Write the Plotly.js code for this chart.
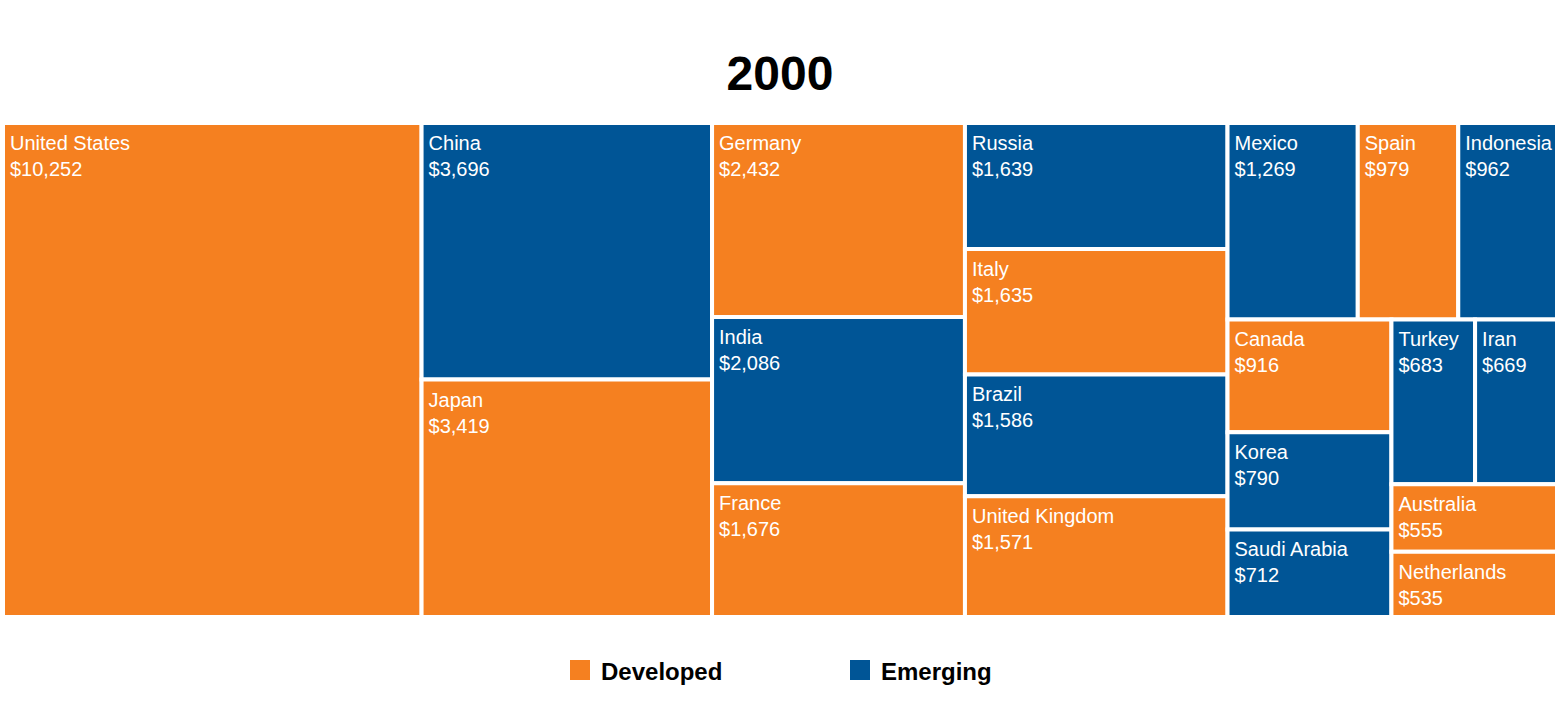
<!DOCTYPE html>
<html>
<head>
<meta charset="utf-8">
<script src="https://cdn.plot.ly/plotly-3.0.1.min.js"></script>
<style>html,body{margin:0;padding:0;background:#fff}#chart{width:1560px;height:720px}</style>
</head>
<body>
<div id="chart"></div>
<script>
const countries = ["United States","China","Japan","Germany","India","France","Russia","Italy","Brazil","United Kingdom","Mexico","Spain","Indonesia","Canada","Korea","Saudi Arabia","Turkey","Iran","Australia","Netherlands"];
const gdp = [10252,3696,3419,2432,2086,1676,1639,1635,1586,1571,1269,979,962,916,790,712,683,669,555,535];
const groups = ["Developed","Emerging","Developed","Developed","Emerging","Developed","Emerging","Developed","Emerging","Developed","Emerging","Developed","Emerging","Developed","Emerging","Emerging","Emerging","Emerging","Developed","Developed"];
const groupNames = ["Developed","Emerging"];
const groupColors = {"Developed":"#F58020","Emerging":"#005596"};
const titleText = "2000";

const trace = {
  type: "treemap",
  labels: countries,
  parents: countries.map(() => ""),
  values: gdp,
  branchvalues: "total",
  sort: true,
  tiling: {packing: "squarify", squarifyratio: 1.618034, pad: 0},
  pathbar: {visible: false},
  marker: {colors: groups.map(g => groupColors[g]), line: {color: "#ffffff", width: 4},
    pad: {t: 0, l: 0, r: 0, b: 0}},
  textposition: "top left",
  texttemplate: "%{label}<br>$%{value:,}",
  textfont: {family: "Liberation Sans, Arial, sans-serif", size: 20, color: "#ffffff"},
  hovertemplate: "%{label}<br>$%{value:,}<extra></extra>"
};

const mt = 123, mb = 103, H = 720;
const plotH = H - mt - mb;
function py(pix) { return (H - mb - pix) / plotH; }

const shapes = [];
const annotations = [];
const legendX0 = 570, legendStep = 280;
groupNames.forEach((g, i) => {
  const x0 = (legendX0 + i * legendStep - 3) / 1554;
  shapes.push({type: "rect", xref: "paper", yref: "paper",
    x0: x0, x1: x0 + 20/1554,
    y0: py(680), y1: py(660),
    fillcolor: groupColors[g], line: {width: 0}});
  annotations.push({xref: "paper", yref: "paper", x: x0 + 29/1554, y: py(671),
    xanchor: "left", yanchor: "middle", showarrow: false, text: "<b>" + g + "</b>",
    font: {family: "Liberation Sans, Arial, sans-serif", size: 24, color: "#000000"}});
});

const layout = {
  width: 1560, height: 720,
  margin: {l: 3, r: 3, t: mt, b: mb},
  paper_bgcolor: "#ffffff",
  title: {text: "<b>" + titleText + "</b>", x: 0.5, xanchor: "center", xref: "paper", y: 1 - 73/720, yanchor: "middle",
    font: {family: "Liberation Sans, Arial, sans-serif", size: 48, color: "#000000"}},
  shapes: shapes,
  annotations: annotations,
  showlegend: false
};

Plotly.newPlot("chart", [trace], layout, {displayModeBar: false, staticPlot: true}).then(gd => {
  // add the tile label inset (padding) used by the reference
  gd.querySelectorAll("g.slice text.slicetext").forEach(t => {
    const tr = t.getAttribute("transform") || "";
    t.setAttribute("transform", "translate(4,6) " + tr);
  });
});
</script>
</body>
</html>
